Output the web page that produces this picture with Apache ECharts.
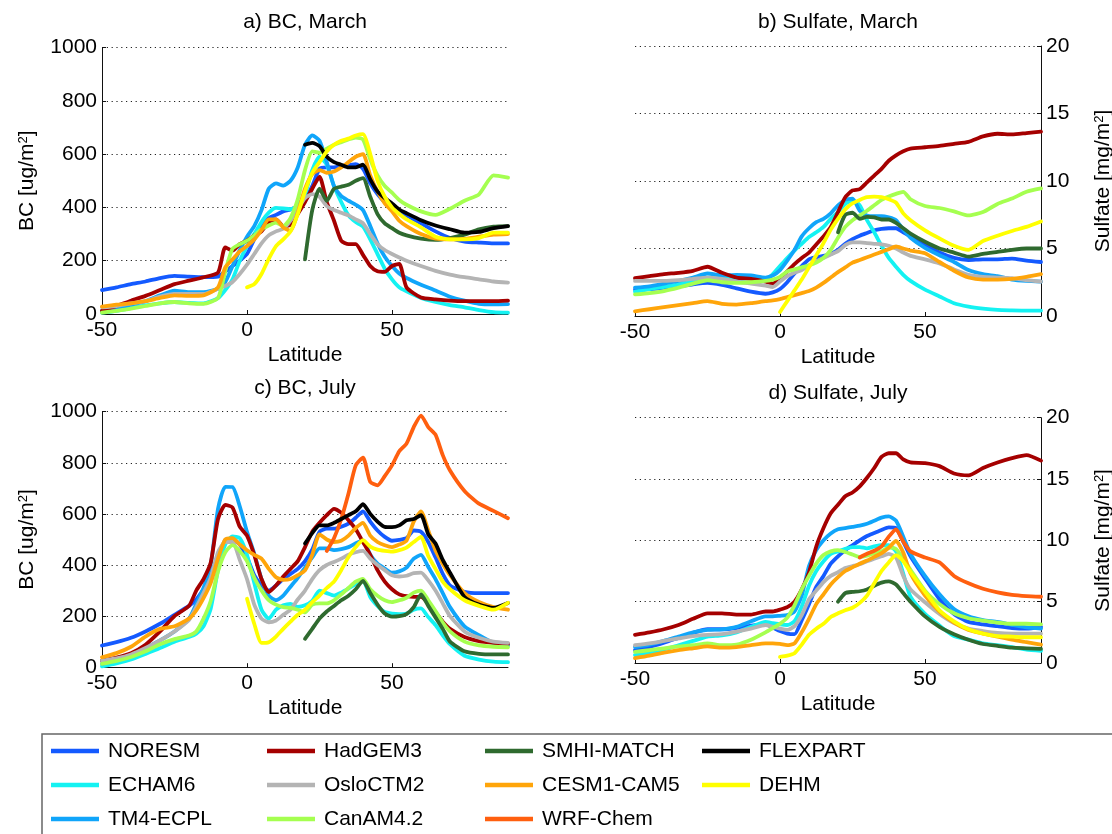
<!DOCTYPE html>
<html>
<head>
<meta charset="utf-8">
<script src="https://cdn.jsdelivr.net/npm/echarts@6/dist/echarts.min.js"></script>
<style>
  html, body { margin: 0; padding: 0; background: #fff; }
  #chart { width: 1112px; height: 834px; }
</style>
</head>
<body>
<div id="chart"></div>
<script>
// Model list (series order) and line colours
const models = ['NORESM', 'ECHAM6', 'TM4-ECPL', 'HadGEM3', 'OsloCTM2', 'CanAM4.2',
                'SMHI-MATCH', 'CESM1-CAM5', 'WRF-Chem', 'FLEXPART', 'DEHM'];
const modelColors = ['#145aff', '#14f2f2', '#10a5fa', '#a50000', '#b4b4b4', '#a5ff50',
                     '#2f6a2f', '#ffa50a', '#ff5f0f', '#000000', '#ffff00'];

// Tick labels
const latTicks = [-50, 0, 50];
const bcTicks = [0, 200, 400, 600, 800, 1000];
const sulfTicks = [0, 5, 10, 15, 20];

// ---- a) BC, March  (ug/m2) ----
const latBcMarch = [-50,-45,-40,-35,-30,-25,-20,-15,-10,-7.5,-5,-2.5,0,2.5,5,7.5,10,12.5,15,17.5,20,22.5,25,27.5,30,32.5,35,37.5,40,42.5,45,47.5,50,52.5,55,60,65,70,75,80,85,90];
const bcMarch = {
  'NORESM':     [90,100,112,122,135,143,140,138,140,160,180,200,225,280,330,360,372,385,392,405,430,480,545,550,550,555,558,562,545,490,450,420,400,385,370,340,310,285,272,268,265,265],
  'ECHAM6':     [5,12,22,32,40,45,42,40,60,90,130,200,255,300,345,380,398,396,393,405,450,540,590,560,480,420,370,345,328,280,225,170,130,100,85,60,45,33,25,15,7,5],
  'TM4-ECPL':   [12,22,35,48,70,88,82,82,95,120,180,240,290,330,390,470,490,482,500,550,635,670,650,570,480,442,425,410,390,330,265,215,180,152,135,110,88,65,50,38,36,37],
  'HadGEM3':    [12,30,50,68,90,112,125,138,155,250,238,262,275,295,310,345,355,330,335,375,420,470,515,420,350,275,262,262,222,180,160,158,180,188,100,62,55,50,48,48,48,50],
  'OsloCTM2':   [25,30,40,48,65,75,75,75,95,105,120,150,185,225,265,295,310,320,350,395,435,450,440,405,390,380,370,355,340,300,262,240,225,212,200,180,162,148,138,130,122,118],
  'CanAM4.2':   [5,12,20,30,40,45,40,38,60,160,245,262,275,295,318,332,343,330,360,430,540,610,605,620,635,645,655,662,655,580,520,480,455,428,410,385,372,395,425,449,520,512],
  'SMHI-MATCH': [null,null,null,null,null,null,null,null,null,null,null,null,null,null,null,null,null,null,null,null,205,390,470,425,470,478,485,500,510,440,375,340,322,305,295,283,278,285,298,318,328,330],
  'CESM1-CAM5': [28,35,40,48,60,70,68,70,100,175,205,235,255,280,315,355,355,325,312,380,470,525,540,530,535,550,570,590,600,520,460,415,385,350,330,300,283,280,282,290,298,300],
  'FLEXPART':   [null,null,null,null,null,null,null,null,null,null,null,null,null,null,null,null,null,null,null,null,635,642,630,590,570,560,550,550,560,505,460,435,415,392,378,352,332,318,305,308,322,330],
  'DEHM':       [null,null,null,null,null,null,null,null,null,null,null,null,100,112,150,207,255,280,310,375,460,530,570,610,635,650,658,670,675,600,500,440,400,375,355,325,290,280,280,285,305,305]
};

// ---- b) Sulfate, March and d) Sulfate, July  (mg/m2) ----
const latSulfate = [-50,-45,-40,-35,-30,-25,-20,-15,-10,-5,-2.5,0,2.5,5,7.5,10,12.5,15,17.5,20,22.5,25,27.5,30,32.5,35,37.5,40,42.5,45,50,55,60,65,70,75,80,85,90];
const sulfMarch = {
  'NORESM':     [1.95,2.0,2.1,2.2,2.35,2.45,2.3,2.05,1.8,1.65,1.75,2.0,2.5,3.15,3.7,4.2,4.35,4.45,4.6,4.9,5.35,5.7,5.95,6.15,6.35,6.45,6.5,6.5,6.2,5.9,5.3,4.7,4.3,4.15,4.2,4.2,4.25,4.1,4.0],
  'ECHAM6':     [1.8,2.0,2.15,2.35,2.6,2.85,2.8,2.75,2.8,2.7,3.1,3.7,4.3,4.85,5.35,5.85,6.2,6.6,7.2,7.7,8.3,8.55,8.2,7.1,6.2,5.2,4.3,3.65,3.05,2.6,1.95,1.45,0.95,0.7,0.55,0.45,0.42,0.4,0.4],
  'TM4-ECPL':   [2.1,2.2,2.4,2.6,2.85,3.15,3.0,3.05,3.0,2.85,3.0,3.4,4.1,4.9,5.9,6.5,6.95,7.2,7.6,8.2,8.6,8.7,7.8,7.45,7.4,7.4,7.3,7.1,6.4,5.8,5.05,4.5,4.0,3.4,3.1,2.95,2.7,2.6,2.55],
  'HadGEM3':    [2.8,2.95,3.1,3.2,3.35,3.65,3.2,2.85,2.75,2.55,2.4,2.8,3.3,3.85,4.3,4.7,5.3,5.9,6.6,7.7,8.8,9.3,9.4,9.9,10.4,10.9,11.5,11.9,12.2,12.4,12.5,12.6,12.75,12.9,13.3,13.5,13.45,13.55,13.65],
  'OsloCTM2':   [2.6,2.6,2.6,2.65,2.75,2.85,2.75,2.55,2.4,2.25,2.15,2.55,2.95,3.2,3.4,3.75,4.05,4.3,4.55,4.8,5.25,5.45,5.45,5.4,5.35,5.3,5.2,5.0,4.7,4.45,4.2,3.9,3.45,3.05,2.9,2.85,2.8,2.65,2.55],
  'CanAM4.2':   [1.6,1.7,1.85,2.1,2.4,2.65,2.5,2.45,2.5,2.6,2.7,2.9,3.3,3.45,3.6,3.75,3.95,4.3,4.9,5.8,6.6,7.1,7.45,7.8,8.2,8.6,8.85,9.05,9.2,8.65,8.15,8.0,7.75,7.45,7.7,8.3,8.7,9.2,9.45],
  'SMHI-MATCH': [null,null,null,null,null,null,null,null,null,null,null,null,null,null,null,null,null,null,null,6.2,7.5,7.65,7.2,7.35,7.3,7.15,7.15,6.9,6.5,6.1,5.5,5.0,4.7,4.4,4.6,4.75,4.9,5.0,5.0],
  'CESM1-CAM5': [0.35,0.5,0.65,0.8,0.95,1.1,0.9,0.85,0.95,1.1,1.15,1.25,1.4,1.55,1.7,1.85,2.1,2.45,2.85,3.25,3.6,3.95,4.15,4.35,4.55,4.75,4.95,5.15,5.0,4.85,4.65,4.0,3.35,2.85,2.7,2.7,2.75,2.9,3.1],
  'DEHM':       [null,null,null,null,null,null,null,null,null,null,null,0.3,1.1,1.9,2.7,3.6,4.5,5.4,6.4,7.2,7.9,8.35,8.6,8.8,8.85,8.8,8.65,8.4,7.6,7.1,6.35,5.75,5.2,4.9,5.55,5.95,6.3,6.6,7.0]
};

// ---- c) BC, July  (ug/m2) ----
const latBcJuly = [-50,-45,-40,-35,-30,-25,-20,-17.5,-15,-12.5,-10,-7.5,-5,-2.5,0,2.5,5,7.5,10,12.5,15,17.5,20,22.5,25,27.5,30,32.5,35,37.5,40,42.5,45,47.5,50,52.5,55,57.5,60,62.5,65,67.5,70,75,80,85,90];
const bcJuly = {
  'NORESM':     [85,98,115,140,170,205,240,265,305,350,430,497,503,480,430,360,320,300,320,345,365,385,415,460,530,542,542,550,562,585,610,570,535,510,495,498,505,535,530,490,430,365,320,295,290,290,290],
  'ECHAM6':     [3,15,30,52,75,100,118,131,160,230,380,480,512,505,440,330,225,190,225,242,248,236,242,260,300,290,280,292,308,325,338,275,240,216,210,208,210,225,230,196,165,125,90,45,30,22,20],
  'TM4-ECPL':   [13,28,45,75,105,140,190,248,310,400,620,706,705,630,530,445,345,280,262,280,315,350,390,430,465,465,458,462,470,485,495,440,405,386,370,375,390,425,440,392,345,290,235,160,125,95,85],
  'HadGEM3':    [26,38,55,88,140,200,240,300,345,410,580,635,625,550,515,440,345,294,320,355,385,415,470,530,565,595,620,605,575,540,490,440,380,335,305,285,278,275,275,250,215,178,150,118,102,95,91],
  'OsloCTM2':   [26,35,50,75,105,140,185,235,290,350,450,490,490,420,345,245,190,176,183,205,225,265,300,345,380,400,412,425,440,450,455,425,400,380,360,355,358,368,370,340,300,250,200,140,115,100,95],
  'CanAM4.2':   [13,25,40,62,90,110,124,140,190,260,375,450,478,455,415,350,300,262,245,235,232,225,215,245,250,250,262,285,310,335,346,305,280,262,255,262,272,292,300,262,220,175,140,100,85,80,78],
  'SMHI-MATCH': [null,null,null,null,null,null,null,null,null,null,null,null,null,null,null,null,null,null,null,null,null,null,111,150,190,218,240,262,280,305,338,290,245,210,198,200,208,235,285,240,195,150,100,62,52,50,50],
  'CESM1-CAM5': [39,55,80,120,150,160,190,222,270,330,425,500,505,480,458,440,425,385,352,342,345,360,379,440,520,500,490,495,515,545,565,515,490,477,470,480,495,570,610,535,457,405,360,290,255,235,225],
  'WRF-Chem':   [null,null,null,null,null,null,null,null,null,null,null,null,null,null,null,null,null,null,null,null,null,null,null,null,null,455,505,580,680,790,820,725,712,748,790,845,875,940,985,940,910,830,770,690,640,612,583],
  'FLEXPART':   [null,null,null,null,null,null,null,null,null,null,null,null,null,null,null,null,null,null,null,null,null,null,484,525,555,555,565,580,595,610,638,600,570,549,548,555,575,580,595,520,484,420,370,275,245,232,251],
  'DEHM':       [null,null,null,null,null,null,null,null,null,null,null,null,null,null,268,170,95,98,120,150,178,205,225,255,280,310,335,380,431,470,497,472,460,455,452,458,468,490,510,435,385,335,305,262,240,225,252]
};

// ---- d) Sulfate, July  (mg/m2) ----
const sulfJuly = {
  'NORESM':     [1.05,1.3,1.65,2.05,2.45,2.75,2.75,2.85,3.05,3.15,2.9,2.6,2.4,2.35,3.5,4.8,6.2,7.1,8.1,8.7,9.2,9.6,10.0,10.35,10.6,10.85,11.05,11.0,9.9,8.7,6.9,5.2,4.0,3.35,3.15,3.0,2.85,2.8,2.95],
  'ECHAM6':     [0.65,0.85,1.1,1.45,1.8,2.15,2.25,2.5,2.95,3.35,3.25,3.15,3.1,3.4,4.6,6.3,7.5,8.3,8.9,9.1,9.3,9.45,9.45,9.35,9.5,9.6,9.6,9.1,7.3,5.4,4.0,3.05,2.2,1.9,1.6,1.45,1.3,1.1,1.0],
  'TM4-ECPL':   [1.3,1.5,1.8,2.15,2.5,2.7,2.75,2.95,3.4,3.8,3.8,3.85,3.9,4.2,5.5,7.9,9.2,10.0,10.55,10.9,11.0,11.1,11.2,11.35,11.6,11.85,11.95,11.6,10.3,8.9,7.1,5.6,4.4,3.8,3.5,3.35,3.1,2.9,2.8],
  'HadGEM3':    [2.3,2.5,2.75,3.1,3.6,4.05,4.05,3.95,3.95,4.2,4.2,4.35,4.55,5.0,6.0,7.4,9.5,11.0,12.2,12.9,13.6,13.9,14.4,15.1,15.9,16.8,17.1,17.1,16.6,16.35,16.3,16.05,15.45,15.3,15.9,16.35,16.7,16.95,16.5],
  'OsloCTM2':   [1.45,1.6,1.8,2.0,2.2,2.3,2.35,2.55,2.8,3.1,2.95,2.8,2.7,3.0,3.9,5.2,5.9,6.6,7.1,7.4,7.75,7.9,8.05,8.3,8.5,8.7,8.9,8.6,7.1,6.0,4.95,4.0,3.25,2.8,2.6,2.45,2.4,2.4,2.4],
  'CanAM4.2':   [0.9,1.05,1.2,1.35,1.45,1.6,1.45,1.5,1.9,2.5,2.85,3.2,3.7,4.7,6.0,7.1,8.1,8.8,9.1,9.2,9.05,8.85,8.65,8.75,8.95,9.1,9.4,9.3,8.5,7.6,5.9,4.8,4.05,3.65,3.45,3.3,3.2,3.2,3.15],
  'SMHI-MATCH': [null,null,null,null,null,null,null,null,null,null,null,null,null,null,null,null,null,null,null,5.0,5.7,5.8,5.85,6.0,6.3,6.55,6.65,6.4,5.7,5.0,3.8,2.95,2.35,1.9,1.55,1.4,1.25,1.2,1.15],
  'CESM1-CAM5': [0.4,0.6,0.85,1.05,1.2,1.35,1.25,1.3,1.45,1.6,1.6,1.55,1.45,1.6,2.5,3.6,4.8,5.6,6.4,7.0,7.5,7.8,8.1,8.35,8.65,8.95,9.4,9.95,9.0,7.3,5.5,4.2,3.3,2.7,2.4,2.15,1.9,1.7,1.5],
  'WRF-Chem':   [null,null,null,null,null,null,null,null,null,null,null,null,null,null,null,null,null,null,null,null,null,null,8.6,8.9,9.15,9.5,10.3,10.9,9.9,9.1,8.6,8.2,7.1,6.5,6.05,5.75,5.55,5.45,5.4],
  'DEHM':       [null,null,null,null,null,null,null,null,null,null,null,0.5,0.6,0.8,1.5,2.3,2.8,3.2,3.75,4.05,4.3,4.5,4.9,5.5,6.5,7.5,8.2,8.8,8.3,7.4,5.8,4.3,3.4,2.75,2.4,2.2,2.15,2.1,2.1]
};

// Panel titles and legend columns
const panelTitles = ['a) BC, March', 'b) Sulfate, March', 'c) BC, July', 'd) Sulfate, July'];
const legendColumns = [
  ['NORESM', 'ECHAM6', 'TM4-ECPL'],
  ['HadGEM3', 'OsloCTM2', 'CanAM4.2'],
  ['SMHI-MATCH', 'CESM1-CAM5', 'WRF-Chem'],
  ['FLEXPART', 'DEHM']
];

// ---------------- layout & styling ----------------
const FONT = '"Liberation Sans", Arial, Helvetica, sans-serif';
const grids = [
  { left: 102, top: 47.5, width: 406, height: 266.5 },
  { left: 635, top: 46,   width: 406, height: 270 },
  { left: 102, top: 411.7, width: 406, height: 255.5 },
  { left: 635, top: 417.7, width: 406, height: 245.3 }
];
const titlePos = [[305, 22], [838, 22], [305, 388], [838, 393]];
const legendLeft = [51, 267, 485, 702];

const panels = [
  { lat: latBcMarch, values: bcMarch,   kind: 'bc' },
  { lat: latSulfate, values: sulfMarch, kind: 'sulf' },
  { lat: latBcJuly,  values: bcJuly,    kind: 'bc' },
  { lat: latSulfate, values: sulfJuly,  kind: 'sulf' }
];

const axisLineStyle = { color: '#111', width: 1 };
const gridLineStyle = { color: '#222', width: 1.1, type: [1.2, 3.6] };
const plainNumber = v => String(v);

const xAxes = panels.map((p, k) => ({
  type: 'value', gridIndex: k, min: -50, max: 90, interval: 50,
  name: 'Latitude', nameLocation: 'middle', nameGap: 31,
  nameMoveOverlap: false,
  nameTextStyle: { fontFamily: FONT, fontSize: 21, color: '#000' },
  axisLine: { show: true, onZero: false, lineStyle: axisLineStyle },
  axisTick: { show: true, inside: true, length: 4, customValues: latTicks, lineStyle: axisLineStyle },
  axisLabel: { customValues: latTicks, formatter: plainNumber, fontFamily: FONT, fontSize: 21, color: '#000', margin: 6 },
  splitLine: { show: false }
}));

const yAxes = panels.map((p, k) => {
  const bc = p.kind === 'bc';
  return {
    type: 'value', gridIndex: k,
    position: bc ? 'left' : 'right',
    min: 0, max: bc ? 1000 : 20, interval: bc ? 200 : 5,
    name: bc ? 'BC [ug/m{sup|2}]' : 'Sulfate [mg/m{sup|2}]',
    nameLocation: 'middle', nameRotate: 90, nameGap: bc ? 64 : 52,
    nameMoveOverlap: false,
    nameTextStyle: {
      fontFamily: FONT, fontSize: 21, color: '#000',
      rich: { sup: { fontFamily: FONT, fontSize: 13, color: '#000', verticalAlign: 'top', lineHeight: 13 } }
    },
    axisLine: { show: true, onZero: false, lineStyle: axisLineStyle },
    axisTick: { show: true, inside: true, length: 4, customValues: bc ? bcTicks : sulfTicks, lineStyle: axisLineStyle },
    axisLabel: { customValues: bc ? bcTicks : sulfTicks, formatter: plainNumber, fontFamily: FONT, fontSize: 21, color: '#000', margin: 5 },
    splitLine: { show: true, lineStyle: gridLineStyle }
  };
});

const series = [];
panels.forEach((p, k) => {
  models.forEach((m, j) => {
    const vals = p.values[m];
    if (!vals) return;
    series.push({
      type: 'line', name: m, xAxisIndex: k, yAxisIndex: k,
      data: p.lat.map((x, i) => [x, vals[i]]).filter(d => d[1] !== null),
      showSymbol: false, symbol: 'none', smooth: 0.2,
      lineStyle: { width: 3.8, color: modelColors[j], cap: 'round', join: 'round' },
      itemStyle: { color: modelColors[j] },
      emphasis: { disabled: true },
      silent: true
    });
  });
});

const legends = legendColumns.map((col, i) => ({
  data: col, orient: 'vertical', left: legendLeft[i], top: 740,
  itemWidth: 48, itemHeight: 4.5, itemGap: 12, icon: 'rect',
  selectedMode: false, padding: 0,
  textStyle: { fontFamily: FONT, fontSize: 21, color: '#000', lineHeight: 22, padding: [0, 0, 0, 4] }
}));

const graphics = [
  {
    type: 'rect', silent: true, z: -1,
    shape: { x: 42, y: 734, width: 1100, height: 140 },
    style: { fill: 'none', stroke: '#666', lineWidth: 1.5 }
  }
].concat(panelTitles.map((t, i) => ({
  type: 'text', silent: true, x: titlePos[i][0], y: titlePos[i][1],
  style: { text: t, fontFamily: FONT, fontSize: 21, fill: '#000', align: 'center', verticalAlign: 'middle' }
})));

const chart = echarts.init(document.getElementById('chart'), null, { renderer: 'canvas' });
chart.setOption({
  animation: false,
  backgroundColor: '#fff',
  grid: grids.map(g => Object.assign({ outerBoundsMode: 'none', containLabel: false }, g)),
  xAxis: xAxes,
  yAxis: yAxes,
  legend: legends,
  graphic: graphics,
  series: series
});
</script>
</body>
</html>
